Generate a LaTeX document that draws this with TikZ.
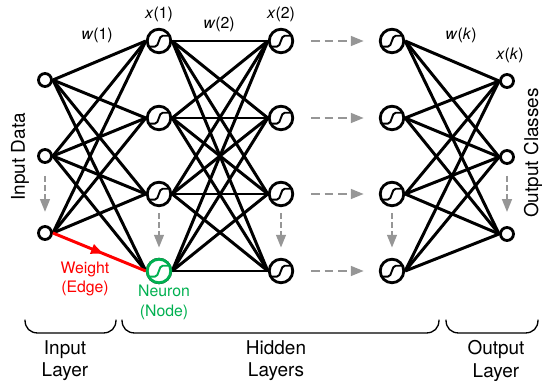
\documentclass[tikz,border=0pt]{standalone}
\usepackage{fontspec}
\setmainfont{TeX Gyre Heros}
\usetikzlibrary{arrows.meta}
\usetikzlibrary{decorations.markings}
\definecolor{neurongreen}{RGB}{0,176,80}
\definecolor{flowgray}{RGB}{150,150,150}
\tikzset{->-/.style = {decoration={markings,
                                   mark=at position #1 with {\arrow{Triangle[length=2.4mm,width=1.9mm]}}},
                       postaction={decorate}}}
\tikzset{edge/.style = {line width = 1.7pt}}
\tikzset{flow/.style = {flowgray, line width = 1.5pt, dash pattern = on 5pt off 2.7pt, -{Triangle[length=2.6mm,width=1.9mm]}}}
\tikzset{flowdown/.style = {flow, dash pattern = on 3.4pt off 1.8pt}}
\tikzset{brace/.style = {line width = 0.75pt, line cap = round}}
\tikzset{plainnode/.style = {circle, draw, line width = 1.6pt, inner sep = 0, minimum size = 7.4pt}}
\tikzset{neuron/.style = {circle, draw, line width = 1.6pt, inner sep = 0, minimum size = 13.4pt,
                          path picture = {\draw [line width = 1.1pt, rounded corners = 1pt]
                            (path picture bounding box.center) ++ (-5pt, -3.2pt) -- ++ (3.7pt, 0)
                            -- ++ (2.4pt, 6.2pt) -- ++ (3.9pt, 0);}}}
\tikzset{biglabel/.style = {font = \fontsize{10.8}{12.6}\selectfont, align = center}}
\tikzset{smalllabel/.style = {font = \fontsize{9}{11.3}\selectfont, align = center}}
\begin{document}
\begin{tikzpicture}[x = 0.02cm, y = -0.02cm]
  \useasboundingbox (0, 0) rectangle (542, 381);

  % input and output layers
  \foreach \n/\y in {1/80, 2/156, 3/233} {
    \node [plainnode] (in\n) at (45, \y) {};
    \node [plainnode] (out\n) at (507, \y + 1) {};
  }
  % hidden layers
  \foreach \l/\x in {a/159, b/281, c/392} {
    \foreach \n/\y in {1/41, 2/118, 3/194, 4/271} {
      \node [neuron] (\l\n) at (\x, \y) {};
    }
  }

  \foreach \i in {1, 2, 3} {
    \foreach \j in {1, 2, 3, 4} {
      \ifnum\i\j=34\else
        \draw [edge] (in\i.east) -- (a\j.west);
      \fi
      \draw [edge] (c\j.east) -- (out\i.west);
    }
  }
  \foreach \i in {1, 2, 3, 4} {
    \foreach \j in {1, 2, 3, 4} {
      \draw [edge] (a\i.east) -- (b\j.west);
    }
  }

  % highlighted weight and neuron
  \draw [red, edge, ->-=0.54] (in3.east) -- (a4.west);
  \node [neuron, neurongreen, fill = white] (a4top) at (a4) {};

  % flow between layers
  \foreach \n in {1, 2, 3, 4} {
    \draw [flow, shorten <= 9.6pt, shorten >= 8.5pt] (b\n) -- (c\n);
  }
  \draw [flowdown, shorten <= 6.8pt, shorten >= 7.4pt] (in2) -- (in3);
  \draw [flowdown, shorten <= 6.2pt, shorten >= 7.9pt] (out2) -- (out3);
  \foreach \l in {a, b, c} {
    \draw [flowdown, shorten <= 3.4pt, shorten >= 5.7pt] (\l3) -- (\l4);
  }

  % labels
  \node [smalllabel] (w1) at (97, 35) {\textit{w}(1)};
  \node [smalllabel] (x1) at (159, 14) {\textit{x}(1)};
  \node [smalllabel] (w2) at (219, 24) {\textit{w}(2)};
  \node [smalllabel] (x2) at (281, 14) {\textit{x}(2)};
  \node [smalllabel] (wk) at (461, 35) {\textit{w}(\textit{k})};
  \node [smalllabel] (xk) at (510, 55) {\textit{x}(\textit{k})};
  \node [biglabel, rotate = 90] (data) at (20, 157) {Input Data};
  \node [biglabel, rotate = 90] (classes) at (533, 153) {Output Classes};
  \node [smalllabel, red] (weight) at (85, 279) {Weight\\(Edge)};
  \node [smalllabel, neurongreen] (node) at (164, 302) {Neuron\\(Node)};

  % layer braces
  \foreach \xa/\xb in {25/116, 122/439, 446/538} {
    \draw [brace] (\xa, 320) .. controls (\xa, 328) and (\xa + 5, 333) .. (\xa + 13, 333)
      -- (\xb - 13, 333) .. controls (\xb - 5, 333) and (\xb, 328) .. (\xb, 320);
  }
  \node [biglabel] (inlayer) at (65, 361) {Input\\Layer};
  \node [biglabel] (hidlayer) at (276, 361) {Hidden\\Layers};
  \node [biglabel] (outlayer) at (496, 361) {Output\\Layer};
\end{tikzpicture}
\end{document}
